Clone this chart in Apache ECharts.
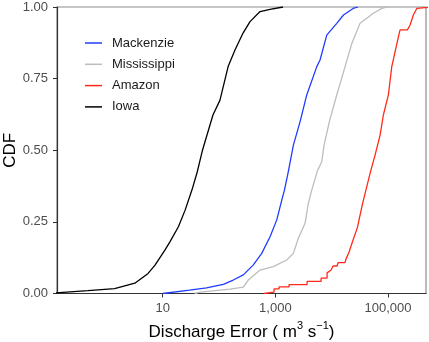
<!DOCTYPE html>
<html>
<head>
<meta charset="UTF-8">
<title>CDF</title>
<script src="https://cdn.jsdelivr.net/npm/echarts@6/dist/echarts.min.js"></script>
<style>
body { margin: 0; padding: 0; background: #fff; }
#main { width: 429px; height: 342px; }
</style>
</head>
<body>
<div id="main"></div>
<script>
// values: discharge error (m3/s) and the CDF reached there
var iowaError = [0.12, 0.47, 1.4, 3.2, 5.5, 7.3, 11, 13.5, 19, 25, 33, 41, 51, 78, 104, 145, 192, 267, 355, 535, 805, 1370];
var iowaCdf   = [0.002, 0.010, 0.017, 0.036, 0.070, 0.099, 0.152, 0.181, 0.233, 0.291, 0.361, 0.424, 0.501, 0.623, 0.675, 0.792, 0.850, 0.909, 0.949, 0.984, 0.992, 1.0];

var mackenzieError = [10, 30, 60, 119, 179, 270, 407, 573, 805, 1060, 1300, 1450, 1700, 2090, 2750, 3610, 5440, 6220, 8180, 12300, 16200, 24000, 29400];
var mackenzieCdf   = [0, 0.012, 0.020, 0.032, 0.047, 0.065, 0.100, 0.140, 0.198, 0.257, 0.326, 0.361, 0.425, 0.518, 0.600, 0.693, 0.792, 0.815, 0.902, 0.943, 0.972, 0.995, 1.0];

var mississippiError = [37, 46, 157, 270, 331, 535, 920, 1590, 2090, 2560, 3370, 3860, 4430, 5580, 6670, 7330, 9100, 12300, 17300, 22800, 31900, 55000, 77600, 95300];
var mississippiCdf   = [0, 0.005, 0.015, 0.022, 0.047, 0.082, 0.094, 0.117, 0.140, 0.193, 0.245, 0.315, 0.361, 0.428, 0.460, 0.518, 0.600, 0.693, 0.792, 0.873, 0.943, 0.978, 0.995, 1.0];

var amazonError = [630, 630, 948, 948, 1164, 1164, 1751, 1751, 3660, 3660, 6490, 6490, 8290, 8290, 9770, 10600, 12470, 12970, 17280, 17970, 20370, 23000, 28600, 35100, 43000, 49400, 59000, 72400, 82800, 101600, 116700, 153000, 164000, 221000, 247000, 282000, 325000, 329000, 600000];
var amazonCdf   = [0, 0.005, 0.005, 0.016, 0.016, 0.023, 0.023, 0.031, 0.031, 0.042, 0.042, 0.054, 0.054, 0.072, 0.082, 0.096, 0.096, 0.108, 0.108, 0.120, 0.145, 0.176, 0.230, 0.311, 0.381, 0.428, 0.483, 0.553, 0.623, 0.693, 0.792, 0.896, 0.920, 0.920, 0.937, 0.972, 0.995, 1.0, 1.0];

var xTicks = [10, 1000, 100000];
var yTicks = [0, 0.25, 0.5, 0.75, 1];
var legendNames = ['Mackenzie', 'Mississippi', 'Amazon', 'Iowa'];

function pairs(err, cdf) {
    var out = [];
    for (var i = 0; i < err.length; i++) {
        out.push([Math.log10(err[i]), cdf[i]]);
    }
    return out;
}

function mkSeries(name, color, err, cdf) {
    return {
        name: name,
        type: 'line',
        data: pairs(err, cdf),
        showSymbol: false,
        symbol: 'none',
        clip: true,
        lineStyle: { color: color, width: 1.3 },
        itemStyle: { color: color }
    };
}

var myChart = echarts.init(document.getElementById('main'));
var option = {
    animation: false,
    textStyle: { fontFamily: 'Liberation Sans, Arial, sans-serif' },
    grid: {
        left: 57, right: 3, top: 7, bottom: 48.5,
        outerBoundsMode: 'none',
        containLabel: false,
        show: true,
        borderColor: '#8c8c8c',
        borderWidth: 1.2,
        backgroundColor: '#fff'
    },
    legend: {
        orient: 'vertical',
        left: 85,
        top: 36,
        padding: 0,
        icon: 'rect',
        itemWidth: 17,
        itemHeight: 1.5,
        itemGap: 7.3,
        data: legendNames,
        textStyle: { fontSize: 13, lineHeight: 14, color: '#1a1a1a', padding: [0, 0, 0, 5] }
    },
    xAxis: {
        type: 'value',
        min: -0.877,
        max: 5.675,
        name: '{n|Discharge Error ( m}{s|3}{n| s}{s|\u22121}{n|)}',
        nameLocation: 'middle',
        nameGap: 27,
        nameTextStyle: {
            rich: {
                n: { fontSize: 17, color: '#000', fontFamily: 'Liberation Sans', verticalAlign: 'bottom', lineHeight: 20 },
                s: { fontSize: 11, color: '#000', fontFamily: 'Liberation Sans', verticalAlign: 'top', lineHeight: 20, padding: [0, 0, 6, 0] }
            }
        },
        splitLine: { show: false },
        axisLine: { onZero: false, lineStyle: { color: '#333', width: 1.2 } },
        axisTick: {
            length: 4,
            lineStyle: { color: '#333' },
            customValues: xTicks.map(function (v) { return Math.log10(v); })
        },
        axisLabel: {
            fontSize: 13,
            color: '#4d4d4d',
            margin: 8,
            customValues: xTicks.map(function (v) { return Math.log10(v); }),
            formatter: function (v) {
                return Math.round(Math.pow(10, v)).toLocaleString('en-US');
            }
        }
    },
    yAxis: {
        type: 'value',
        min: 0,
        max: 1,
        interval: 0.25,
        name: 'CDF',
        nameLocation: 'middle',
        nameMoveOverlap: false,
        nameGap: 38,
        nameTextStyle: { fontSize: 17, color: '#000' },
        splitLine: { show: false },
        axisLine: { show: true, onZero: false, lineStyle: { color: '#333', width: 1.2 } },
        axisTick: { show: true, length: 4, lineStyle: { color: '#333' } },
        axisLabel: {
            fontSize: 13,
            color: '#4d4d4d',
            margin: 9,
            customValues: yTicks,
            formatter: function (v) { return v.toFixed(2); }
        }
    },
    series: [
        mkSeries('Iowa', '#000000', iowaError, iowaCdf),
        mkSeries('Mississippi', '#bdbdbd', mississippiError, mississippiCdf),
        mkSeries('Mackenzie', '#1f3dff', mackenzieError, mackenzieCdf),
        mkSeries('Amazon', '#ff2a1a', amazonError, amazonCdf)
    ]
};
myChart.setOption(option);
</script>
</body>
</html>
